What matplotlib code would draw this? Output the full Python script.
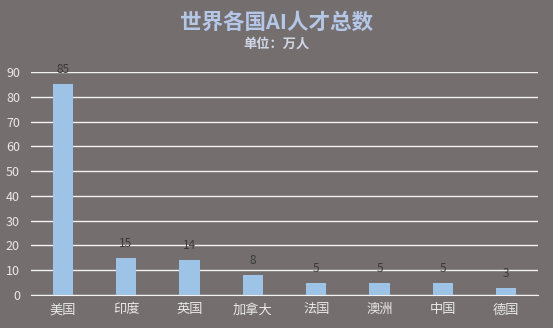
import numpy as np
import matplotlib.pyplot as plt

plt.rcParams['font.family'] = ['Noto Sans CJK SC', 'DejaVu Sans']

countries = ['美国', '印度', '英国', '加拿大', '法国', '澳洲', '中国', '德国']
values = [85, 15, 14, 8, 5, 5, 5, 3]
yticks = [0, 10, 20, 30, 40, 50, 60, 70, 80, 90]

bg = '#756e6e'
fig = plt.figure(figsize=(5.53, 3.28), dpi=100, facecolor=bg)
ax = fig.add_axes([31/553, 1-295/328, (538-31)/553, (295-72)/328])
ax.set_facecolor(bg)

x = np.arange(len(countries))
ax.bar(x, values, width=0.32, color='#9dc3e6', zorder=3)
for xi, v in zip(x, values):
    ax.text(xi, v + 3.2, str(v), ha='center', va='bottom', fontsize=8.5, color='#3a3a3a', zorder=4)

ax.set_xlim(-0.5, len(countries) - 0.5)
ax.set_ylim(0, 90)
ax.set_yticks(yticks)
ax.yaxis.grid(True, color='#f2f2f2', linewidth=1, zorder=0)
ax.set_xticks(x)
ax.set_xticklabels(countries, fontsize=9.5)
ax.tick_params(axis='both', length=0, colors='#e8e8e8')
ax.tick_params(axis='y', labelsize=9, pad=8)
ax.tick_params(axis='x', pad=6)
for s in ['top', 'right', 'left']:
    ax.spines[s].set_visible(False)
ax.spines['bottom'].set_color('#f2f2f2')

fig.text(0.5, 1-22/328, '世界各国AI人才总数', ha='center', va='center', fontsize=15.5,
         fontweight='bold', color='#b4c7e7')
fig.text(0.5, 1-44/328, '单位：万人', ha='center', va='center', fontsize=9.5,
         fontweight='bold', color='#d0d8e8')

fig.savefig('out.png', dpi=100, facecolor=bg)
